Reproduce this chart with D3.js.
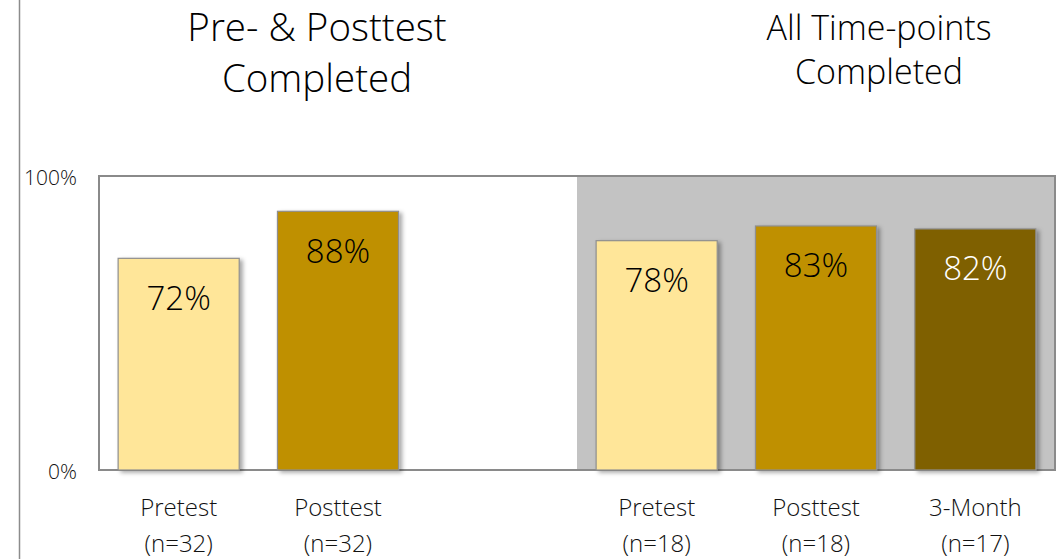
<!DOCTYPE html>
<html>
<head>
<meta charset="utf-8">
<script src="https://cdn.jsdelivr.net/npm/d3@7"></script>
<style>
  html, body { margin: 0; padding: 0; background: #fff; }
  svg { display: block; font-family: "Open Sans", "Noto Sans", sans-serif; font-weight: 300; }
</style>
</head>
<body>
<svg id="chart" width="1057" height="559"></svg>
<script>
// Completion rates by time point, two cohorts
const categories = ["pre1", "post1", "gap", "pre2", "post2", "m3"];
const labelLine1 = ["Pretest", "Posttest", "", "Pretest", "Posttest", "3-Month"];
const labelLine2 = ["(n=32)", "(n=32)", "", "(n=18)", "(n=18)", "(n=17)"];
const values = [72, 88, null, 78, 83, 82];
const barColors = ["#FFE699", "#BF9000", null, "#FFE699", "#BF9000", "#7F6000"];
const textColors = ["#000", "#000", null, "#000", "#000", "#fff"];
const yTicks = [0, 100];

const svg = d3.select("#chart");
const plot = { left: 99, right: 1055, top: 176, bottom: 470 };

const x = d3.scaleBand().domain(categories).range([plot.left, plot.right]).paddingInner(0.24).paddingOuter(0.12);
const y = d3.scaleLinear().domain([0, 100]).range([plot.bottom, plot.top]);

const defs = svg.append("defs");
const f = defs.append("filter").attr("id", "shadow").attr("x", "-10%").attr("y", "-10%").attr("width", "130%").attr("height", "130%");
f.append("feDropShadow").attr("dx", 3).attr("dy", 2).attr("stdDeviation", 2.2).attr("flood-color", "#000").attr("flood-opacity", 0.35);

// left frame line
svg.append("line").attr("x1", 19.5).attr("x2", 19.5).attr("y1", 0).attr("y2", 559)
  .attr("stroke", "#8c8c8c").attr("stroke-width", 1.5);

// shaded panel behind the all-time-points cohort
const step = x.step();
const panelX = x("pre2") - (step - x.bandwidth()) / 2;
svg.append("rect").attr("x", panelX).attr("y", plot.top)
  .attr("width", plot.right - panelX).attr("height", plot.bottom - plot.top)
  .attr("fill", "#C3C3C3");

// plot border
svg.append("rect").attr("x", plot.left).attr("y", plot.top)
  .attr("width", plot.right - plot.left).attr("height", plot.bottom - plot.top)
  .attr("fill", "none").attr("stroke", "#8a8a8a").attr("stroke-width", 2);

// bars
const data = categories.map((c, i) => ({ c, v: values[i], fill: barColors[i], tc: textColors[i], l1: labelLine1[i], l2: labelLine2[i] }));
const bars = data.filter(d => d.v != null);

svg.append("g").selectAll("rect").data(bars).join("rect")
  .attr("x", d => x(d.c)).attr("y", d => y(d.v))
  .attr("width", x.bandwidth()).attr("height", d => y(0) - y(d.v))
  .attr("fill", d => d.fill).attr("stroke", "#8f8f8f").attr("stroke-width", 1.2)
  .attr("filter", "url(#shadow)");

// value labels inside bars
svg.append("g").selectAll("text").data(bars).join("text")
  .attr("x", d => x(d.c) + x.bandwidth() / 2).attr("y", d => y(d.v) + 39)
  .attr("text-anchor", "middle").attr("dominant-baseline", "central")
  .attr("font-size", 33).attr("fill", d => d.tc)
  .text(d => d.v + "%");

// y-axis tick labels
svg.append("g").selectAll("text").data(yTicks).join("text")
  .attr("x", 77).attr("y", d => y(d) + 1)
  .attr("text-anchor", "end").attr("dominant-baseline", "central")
  .attr("font-size", 21).attr("fill", "#111")
  .text(d => d + "%");

// category labels
const cat = svg.append("g").selectAll("text").data(bars).join("text")
  .attr("text-anchor", "middle").attr("font-size", 24).attr("fill", "#111");
cat.append("tspan").attr("x", d => x(d.c) + x.bandwidth() / 2).attr("y", 516).text(d => d.l1);
cat.append("tspan").attr("x", d => x(d.c) + x.bandwidth() / 2).attr("y", 552).text(d => d.l2);

// group headings
const h1 = svg.append("text").attr("text-anchor", "middle").attr("font-size", 38.5).attr("fill", "#000");
h1.append("tspan").attr("x", 317).attr("y", 41).text("Pre- & Posttest");
h1.append("tspan").attr("x", 317).attr("y", 92).text("Completed");
const h2 = svg.append("text").attr("text-anchor", "middle").attr("font-size", 34).attr("fill", "#000");
h2.append("tspan").attr("x", 879).attr("y", 40).text("All Time-points");
h2.append("tspan").attr("x", 879).attr("y", 84).text("Completed");
</script>
</body>
</html>
